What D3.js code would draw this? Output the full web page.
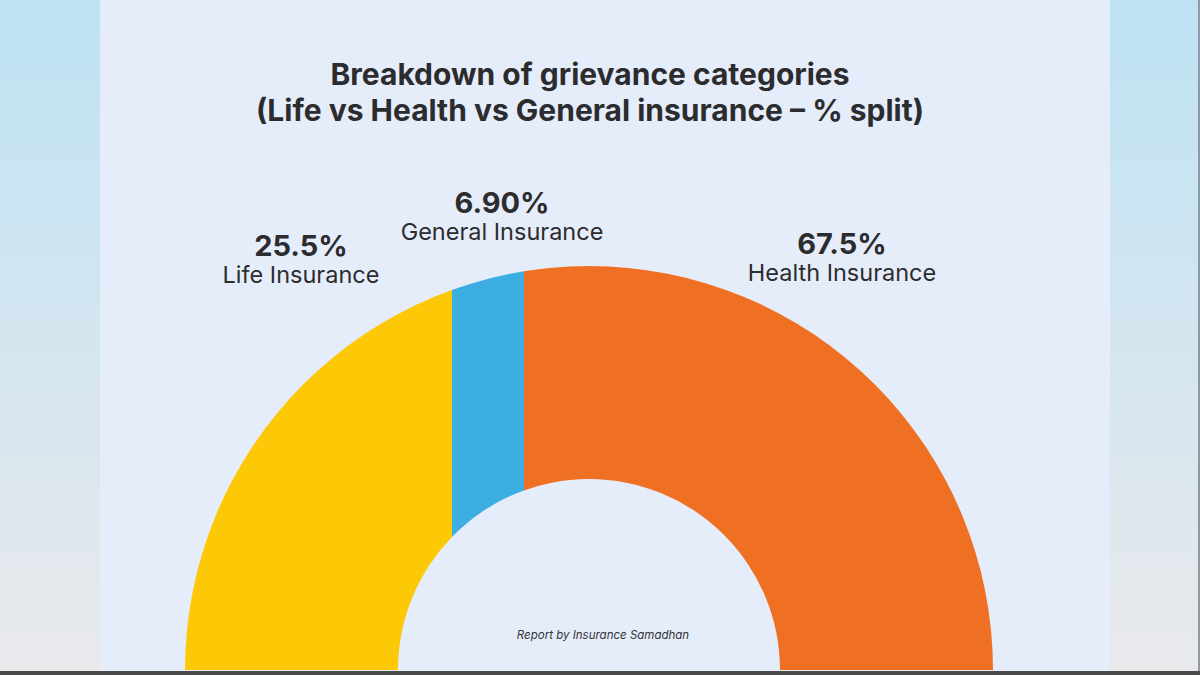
<!DOCTYPE html>
<html><head><meta charset="utf-8">
<script src="https://cdn.jsdelivr.net/npm/d3@7"></script>
<style>html,body{margin:0;padding:0;background:#fff;}svg{display:block;}</style>
</head><body>
<svg id="chart" width="1200" height="675"></svg>
<script>
// ---- data ----
const categories = ["Life Insurance", "General Insurance", "Health Insurance"];
const values = [25.5, 6.9, 67.5];
const valueLabels = ["25.5%", "6.90%", "67.5%"];
const colors = ["#fdc805", "#3daee2", "#f07023"];
const titleLines = ["Breakdown of grievance categories", "(Life vs Health vs General insurance \u2013 % split)"];
const footer = "Report by Insurance Samadhan";

// ---- layout ----
const W = 1200, H = 675;
const cx = 589, cy = 670, R = 404, r = 191;
const labelPos = [[301, 256], [502, 213], [842, 254]];
const FONT = "Inter, 'Open Sans', sans-serif";

const svg = d3.select("#chart");
const defs = svg.append("defs");
const g = defs.append("linearGradient").attr("id", "bg").attr("x1", 0).attr("y1", 0).attr("x2", 0).attr("y2", 1);
g.append("stop").attr("offset", "0%").attr("stop-color", "#bee2f4");
g.append("stop").attr("offset", "100%").attr("stop-color", "#e9e9eb");
svg.append("rect").attr("width", W).attr("height", H).attr("fill", "url(#bg)");
svg.append("rect").attr("x", 100).attr("y", 0).attr("width", 1010).attr("height", H).attr("fill", "#e5edfb");
svg.append("rect").attr("x", 1198).attr("y", 0).attr("width", 2).attr("height", H).attr("fill", "#8d9aa3");

// cumulative boundaries
const cum = [0];
values.forEach((v, i) => cum.push(cum[i] + v));
// vertical cut positions along the half-donut
const xCut = d3.scaleLinear()
  .domain(cum)
  .range([cx - R, cx - 137, cx - 65, cx + R]);

const arc = d3.arc().innerRadius(r).outerRadius(R).startAngle(-Math.PI / 2).endAngle(Math.PI / 2);

values.forEach((v, i) => {
  const cp = defs.append("clipPath").attr("id", "clip" + i);
  const x0 = xCut(cum[i]) - (i === 0 ? 2 : 0);
  const x1 = xCut(cum[i + 1]) + (i === values.length - 1 ? 2 : 0);
  cp.append("rect").attr("x", x0).attr("y", 0).attr("width", x1 - x0).attr("height", H);
});

values.forEach((v, i) => {
  svg.append("g")
    .attr("clip-path", `url(#clip${i})`)
    .append("path")
    .attr("d", arc())
    .attr("transform", `translate(${cx},${cy})`)
    .attr("fill", colors[i]);
});

// bottom dark band
svg.append("rect").attr("x", 0).attr("y", 671).attr("width", W).attr("height", 4).attr("fill", "#4b4b4b");

// titles
svg.selectAll("text.title").data(titleLines).enter().append("text")
  .attr("class", "title")
  .attr("x", 590).attr("y", (d, i) => 85 + i * 36)
  .attr("text-anchor", "middle")
  .attr("font-family", FONT).attr("font-weight", 700).attr("font-size", 30)
  .attr("fill", "#2c2c2e").text(d => d);

// labels
const nameSize = 23.5;
categories.forEach((c, i) => {
  svg.append("text").attr("x", labelPos[i][0]).attr("y", labelPos[i][1])
    .attr("text-anchor", "middle").attr("font-family", FONT).attr("font-weight", 700)
    .attr("font-size", 29).attr("fill", "#2c2c2e").text(valueLabels[i]);
  svg.append("text").attr("x", labelPos[i][0]).attr("y", labelPos[i][1] + 27)
    .attr("text-anchor", "middle").attr("font-family", FONT).attr("font-weight", 400)
    .attr("font-size", nameSize).attr("fill", "#2c2c2e").text(c);
});

svg.append("text").attr("x", 603).attr("y", 639).attr("text-anchor", "middle")
  .attr("font-family", FONT).attr("font-style", "italic").attr("font-size", 11.5)
  .attr("fill", "#333338").text(footer);
</script>
</body></html>
